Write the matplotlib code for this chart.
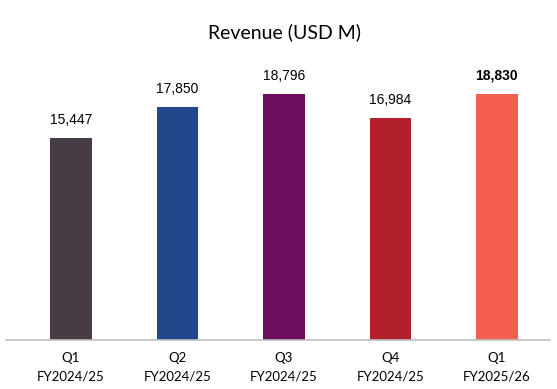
import matplotlib.pyplot as plt

quarters = ["Q1\nFY2024/25", "Q2\nFY2024/25", "Q3\nFY2024/25", "Q4\nFY2024/25", "Q1\nFY2025/26"]
revenue = [15447, 17850, 18796, 16984, 18830]
colors = ["#473C45", "#22478A", "#6E0E5E", "#B21F2D", "#F4604F"]

W, H = 557, 389
fig = plt.figure(figsize=(W / 100, H / 100), dpi=100)
# axes placed in pixels: baseline at y=340, line from x=6 to 550
ax = fig.add_axes([6 / W, (H - 340) / H, 544 / W, 280 / H])

x = list(range(len(revenue)))
bars = ax.bar(x, revenue, width=0.39, color=colors)

ax.set_xlim(-0.61, 4.5)
ax.set_ylim(0, 21430)

for i, (b, v) in enumerate(zip(bars, revenue)):
    ax.annotate(f"{v:,}", (b.get_x() + b.get_width() / 2, v),
                xytext=(0, 8), textcoords="offset points",
                ha="center", va="bottom", fontsize=10,
                family=["Liberation Sans", "DejaVu Sans"],
                fontweight="bold" if i == len(revenue) - 1 else "normal",
                color="black")

ax.set_xticks(x)
ax.set_xticklabels(quarters, family="Lato", fontsize=9.5, linespacing=1.6)
ax.tick_params(axis="x", length=0, pad=9)
ax.set_yticks([])

for s in ["top", "right", "left"]:
    ax.spines[s].set_visible(False)
ax.spines["bottom"].set_color("#BFBFBF")
ax.spines["bottom"].set_linewidth(1.2)

fig.text(285 / W, 1 - 32 / H, "Revenue (USD M)", ha="center", va="center",
         family="Lato", fontsize=14)

fig.savefig("out.png", dpi=100, facecolor="white")
